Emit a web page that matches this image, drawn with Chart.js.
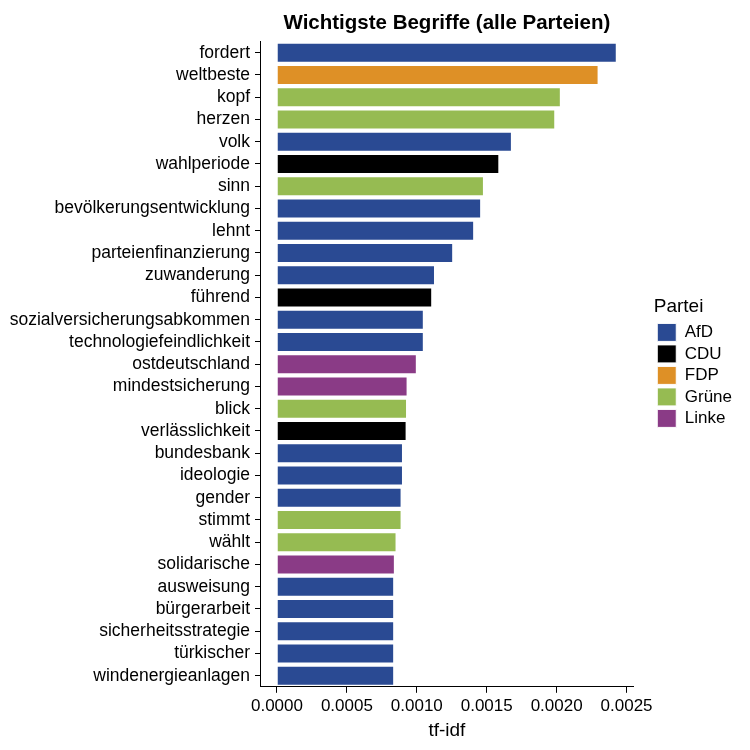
<!DOCTYPE html>
<html>
<head>
<meta charset="utf-8">
<script src="https://cdn.jsdelivr.net/npm/chart.js@4"></script>
<style>
  html, body { margin: 0; padding: 0; background: #fff; }
  #wrap { width: 750px; height: 750px; }
</style>
</head>
<body>
<div id="wrap"><canvas id="tfidfChart" width="750" height="750"></canvas></div>
<script>
// Terms, top to bottom
const terms = ['fordert', 'weltbeste', 'kopf', 'herzen', 'volk', 'wahlperiode', 'sinn',
    'bevölkerungsentwicklung', 'lehnt', 'parteienfinanzierung', 'zuwanderung', 'führend',
    'sozialversicherungsabkommen', 'technologiefeindlichkeit', 'ostdeutschland',
    'mindestsicherung', 'blick', 'verlässlichkeit', 'bundesbank', 'ideologie', 'gender',
    'stimmt', 'wählt', 'solidarische', 'ausweisung', 'bürgerarbeit', 'sicherheitsstrategie',
    'türkischer', 'windenergieanlagen'];

const tfidf = [0.00243, 0.00230, 0.00203, 0.00199, 0.00168, 0.00159, 0.00148,
    0.00146, 0.00141, 0.00126, 0.00113, 0.00111,
    0.00105, 0.00105, 0.00100,
    0.000934, 0.000930, 0.000927, 0.000901, 0.000901, 0.000891,
    0.000891, 0.000855, 0.000843, 0.000838, 0.000838, 0.000838,
    0.000838, 0.000838];

const termParty = ['AfD', 'FDP', 'Grüne', 'Grüne', 'AfD', 'CDU', 'Grüne',
    'AfD', 'AfD', 'AfD', 'AfD', 'CDU',
    'AfD', 'AfD', 'Linke',
    'Linke', 'Grüne', 'CDU', 'AfD', 'AfD', 'AfD',
    'Grüne', 'Grüne', 'Linke', 'AfD', 'AfD', 'AfD',
    'AfD', 'AfD'];

const parties = ['AfD', 'CDU', 'FDP', 'Grüne', 'Linke'];
const partyColors = ['#2A4A93', '#000000', '#DE9026', '#96BB52', '#8A3B86'];

const xTicks = [0, 0.0005, 0.0010, 0.0015, 0.0020, 0.0025];

const colorOf = p => partyColors[parties.indexOf(p)];
const FONT = "'Liberation Sans', Arial, sans-serif";

// push the legend a bit away from the plot and nudge it up
const legendShift = {
    id: 'legendShift',
    afterLayout(chart) {
        const lg = chart.legend;
        if (!lg) return;
        lg.left += 20;
        lg.right += 20;
        lg.top -= 9;
        lg.bottom -= 9;
    }
};

const ctx = document.getElementById('tfidfChart').getContext('2d');
new Chart(ctx, {
    type: 'bar',
    data: {
        labels: terms,
        datasets: [{
            label: 'tf-idf',
            data: tfidf,
            backgroundColor: termParty.map(colorOf),
            borderColor: '#ffffff',
            borderWidth: 1,
            barPercentage: 0.9,
            categoryPercentage: 1.0
        }]
    },
    options: {
        indexAxis: 'y',
        responsive: false,
        animation: false,
        layout: {
            padding: { top: 0, right: 28, bottom: 4, left: 0 }
        },
        plugins: {
            title: {
                display: true,
                text: 'Wichtigste Begriffe (alle Parteien)',
                fullSize: false,
                color: '#000',
                font: { family: FONT, size: 20.5, weight: 'bold' },
                padding: { top: 11, bottom: 6 }
            },
            legend: {
                display: true,
                position: 'right',
                align: 'center',
                title: {
                    display: true,
                    text: 'Partei',
                    position: 'start',
                    color: '#000',
                    font: { family: FONT, size: 19 },
                    padding: { top: 0, bottom: 0 }
                },
                labels: {
                    boxWidth: 19,
                    boxHeight: 18,
                    padding: 3.5,
                    color: '#000',
                    font: { family: FONT, size: 17 },
                    generateLabels: () => parties.map((p, i) => ({
                        text: p,
                        fillStyle: partyColors[i],
                        strokeStyle: '#ffffff',
                        lineWidth: 1,
                        hidden: false,
                        index: i
                    }))
                }
            },
            tooltip: { enabled: false }
        },
        scales: {
            x: {
                type: 'linear',
                min: -0.0001215,
                max: 0.0025515,
                afterBuildTicks: s => { s.ticks = xTicks.map(v => ({ value: v })); },
                ticks: {
                    color: '#000',
                    font: { family: FONT, size: 17 },
                    padding: 3,
                    maxRotation: 0,
                    callback: v => Number(v).toFixed(4)
                },
                grid: {
                    display: true,
                    drawOnChartArea: false,
                    tickLength: 6,
                    color: '#000'
                },
                border: { display: true, color: '#000', width: 1 },
                title: {
                    display: true,
                    text: 'tf-idf',
                    color: '#000',
                    font: { family: FONT, size: 19 },
                    padding: { top: 0, bottom: 4 }
                }
            },
            y: {
                type: 'category',
                afterFit: s => { s.width = 260; },
                ticks: {
                    color: '#000',
                    font: { family: FONT, size: 17.5 },
                    padding: 5,
                    autoSkip: false
                },
                grid: {
                    display: true,
                    drawOnChartArea: false,
                    offset: false,
                    tickLength: 5,
                    color: '#000'
                },
                border: { display: true, color: '#000', width: 1 }
            }
        }
    },
    plugins: [legendShift]
});
</script>
</body>
</html>
